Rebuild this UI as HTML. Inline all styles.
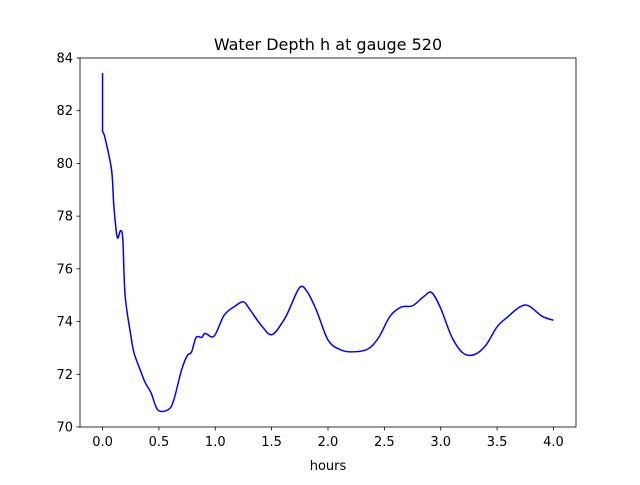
<!DOCTYPE html>
<html><head><meta charset="utf-8"><style>
body{margin:0;background:#fff;font-family:"Liberation Sans","DejaVu Sans",sans-serif}
svg text{font-family:"DejaVu Sans","Liberation Sans",sans-serif;font-size:13px;fill:#000}
</style></head><body>
<svg id="chart" width="640" height="480" xmlns="http://www.w3.org/2000/svg">
<rect width="640" height="480" fill="#fff"/>
<text x="328" y="50" text-anchor="middle" style="font-size:16px">Water Depth h at gauge 520</text>
<g id="axes"></g>
<text x="328" y="470" text-anchor="middle">hours</text>
</svg>
<script>
const hours=[0,0,0.02,0.08,0.1,0.13,0.16,0.18,0.2,0.25,0.28,0.34,0.38,0.43,0.49,0.58,0.63,0.70,0.75,0.79,0.83,0.88,0.91,0.99,1.08,1.18,1.25,1.3,1.4,1.5,1.6,1.65,1.75,1.82,1.9,2.0,2.1,2.2,2.35,2.45,2.55,2.65,2.75,2.85,2.92,3.0,3.1,3.2,3.3,3.4,3.5,3.6,3.7,3.78,3.9,4.0];
const depth=[83.43,81.2,81.0,79.75,78.4,77.2,77.45,77.1,75.0,73.5,72.8,72.1,71.67,71.3,70.65,70.65,71.0,72.15,72.7,72.85,73.4,73.4,73.55,73.45,74.25,74.6,74.75,74.5,73.9,73.5,74.0,74.4,75.3,75.1,74.4,73.3,72.95,72.85,72.95,73.4,74.2,74.55,74.6,74.95,75.1,74.5,73.4,72.8,72.75,73.1,73.8,74.2,74.55,74.6,74.2,74.05];
const xTicks=[0,0.5,1,1.5,2,2.5,3,3.5,4];
const xTickLabels=["0.0","0.5","1.0","1.5","2.0","2.5","3.0","3.5","4.0"];
const yTicks=[70,72,74,76,78,80,82,84];
const yTickLabels=["70","72","74","76","78","80","82","84"];
const L=80,R=576,T=58,B=427,xmin=-0.2,xmax=4.2,ymin=70,ymax=84;
const X=v=>L+(v-xmin)/(xmax-xmin)*(R-L);
const Y=v=>B-(v-ymin)/(ymax-ymin)*(B-T);
const NS="http://www.w3.org/2000/svg",g=document.getElementById('axes');
function mk(t,a){const e=document.createElementNS(NS,t);for(const k in a)e.setAttribute(k,a[k]);g.appendChild(e);return e;}
xTicks.forEach((v,i)=>{
 const l=mk('line',{x1:X(v),x2:X(v),y1:B,y2:B+3.5,stroke:'#000','stroke-width':0.8});
 
 
 const t=mk('text',{x:X(v),y:B+19,'text-anchor':'middle'});t.textContent=xTickLabels[i];
 
 
});
yTicks.forEach((v,i)=>{
 const l=mk('line',{x1:L-3.5,x2:L,y1:Y(v),y2:Y(v),stroke:'#000','stroke-width':0.8});
 
 
 const t=mk('text',{x:L-7,y:Y(v)+4.5,'text-anchor':'end'});t.textContent=yTickLabels[i];
 
 
});
const pts=hours.map((h,i)=>[X(h),Y(depth[i])]);
let d='M'+pts[0][0]+','+pts[0][1]+' L'+pts[1][0]+','+pts[1][1];
for(let i=1;i<pts.length-1;i++){
 const p0=pts[Math.max(i-1,1)],p1=pts[i],p2=pts[i+1],p3=pts[Math.min(i+2,pts.length-1)];
 const c1=[p1[0]+(p2[0]-p0[0])/6,p1[1]+(p2[1]-p0[1])/6];
 const c2=[p2[0]-(p3[0]-p1[0])/6,p2[1]-(p3[1]-p1[1])/6];
 d+=' C'+c1+' '+c2+' '+p2;
}
const p=mk('path',{d:d,fill:'none',stroke:'#0000ff','stroke-width':1.5,'stroke-linejoin':'round'});


const f=mk('rect',{x:L,y:T,width:R-L,height:B-T,fill:'none',stroke:'#000','stroke-width':0.8});


</script>
</body></html>
